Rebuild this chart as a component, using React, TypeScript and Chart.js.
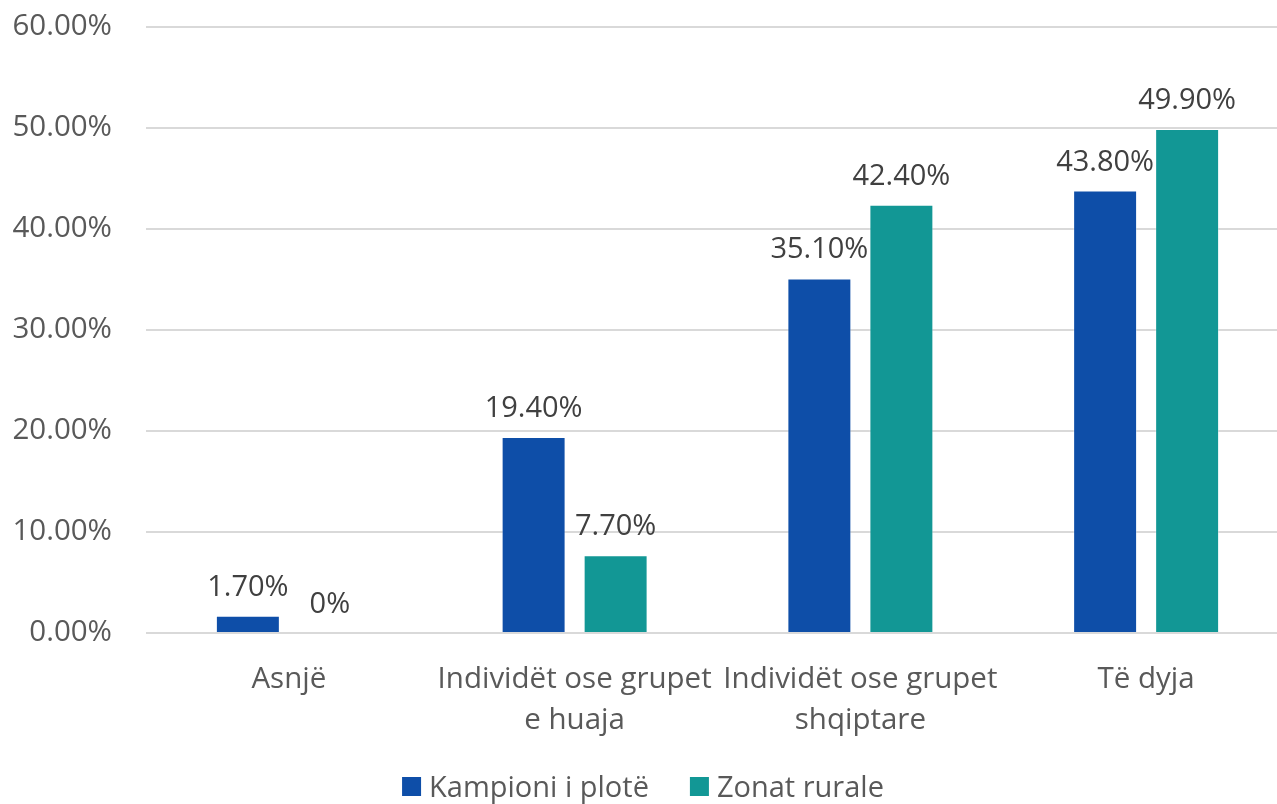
import React, { useEffect, useRef } from "react";
import { Chart, registerables } from "chart.js";

Chart.register(...registerables);

const categories: string[][] = [
  ["Asnjë"],
  ["Individët ose grupet", "e huaja"],
  ["Individët ose grupet", "shqiptare"],
  ["Të dyja"],
];
const seriesNames = ["Kampioni i plotë", "Zonat rurale"];
const fullSample = [1.7, 19.4, 35.1, 43.8];
const ruralAreas = [0, 7.7, 42.4, 49.9];
const yMin = 0;
const yMax = 60;
const yStep = 10;

const FONT = '"Open Sans", "Noto Sans", sans-serif';
const BLUE = "#0E4EA8";
const TEAL = "#129795";
const AXIS_TEXT = "#595959";
const LABEL_TEXT = "#404040";

const fmtLabel = (v: number) => (v === 0 ? "0%" : v.toFixed(2) + "%");

const dataLabelPlugin = {
  id: "dataLabels",
  afterDatasetsDraw(chart: any) {
    const ctx = chart.ctx;
    ctx.save();
    ctx.font = `29px ${FONT}`;
    ctx.fillStyle = LABEL_TEXT;
    ctx.textAlign = "center";
    ctx.textBaseline = "alphabetic";
    chart.data.datasets.forEach((ds: any, i: number) => {
      const meta = chart.getDatasetMeta(i);
      meta.data.forEach((el: any, j: number) => {
        ctx.fillText(fmtLabel(ds.data[j]), el.x, el.y - 20);
      });
    });
    ctx.restore();
  },
};

const customLegendPlugin = {
  id: "customLegend",
  afterDraw(chart: any) {
    const ctx = chart.ctx;
    ctx.save();
    ctx.font = `29px ${FONT}`;
    const box = 19;
    const gapText = 8;
    const gapItems = 41;
    const items = chart.data.datasets.map((ds: any) => ({
      text: ds.label,
      color: ds.backgroundColor,
      w: ctx.measureText(ds.label).width,
    }));
    const total =
      items.reduce((s: number, it: any) => s + box + gapText + it.w, 0) +
      gapItems * (items.length - 1);
    let x = 643 - total / 2;
    const baseline = 797;
    items.forEach((it: any) => {
      ctx.fillStyle = it.color;
      ctx.fillRect(x, baseline - box - 1, box, box);
      x += box + gapText;
      ctx.fillStyle = AXIS_TEXT;
      ctx.textAlign = "left";
      ctx.textBaseline = "alphabetic";
      ctx.fillText(it.text, x, baseline);
      x += it.w + gapItems;
    });
    ctx.restore();
  },
};

export default function App() {
  const ref = useRef<HTMLCanvasElement | null>(null);

  useEffect(() => {
    if (!ref.current) return;
    const chart = new Chart(ref.current, {
      type: "bar",
      data: {
        labels: categories,
        datasets: [
          {
            label: seriesNames[0],
            data: fullSample,
            backgroundColor: BLUE,
            borderColor: "rgba(255,255,255,0.35)",
            borderWidth: 1,
            categoryPercentage: 0.574,
            barPercentage: 0.78,
          },
          {
            label: seriesNames[1],
            data: ruralAreas,
            backgroundColor: TEAL,
            borderColor: "rgba(255,255,255,0.35)",
            borderWidth: 1,
            categoryPercentage: 0.574,
            barPercentage: 0.78,
          },
        ],
      },
      options: {
        responsive: false,
        animation: false,
        layout: { padding: { top: 27, left: 0, right: 0, bottom: 0 } },
        plugins: {
          legend: { display: false },
          tooltip: { enabled: false },
        },
        scales: {
          x: {
            grid: { display: false, drawTicks: false },
            border: { display: false },
            ticks: {
              color: AXIS_TEXT,
              font: { family: FONT, size: 29.5, lineHeight: 1.36 },
              padding: 27,
              maxRotation: 0,
              autoSkip: false,
            },
            afterFit: (scale: any) => {
              scale.height = 171;
              scale.paddingLeft = 0;
              scale.paddingRight = 0;
            },
          },
          y: {
            min: yMin,
            max: yMax,
            grid: { color: "#D9D9D9", lineWidth: 2, drawTicks: false },
            border: { display: false },
            ticks: {
              stepSize: yStep,
              color: AXIS_TEXT,
              font: { family: FONT, size: 29.5 },
              padding: 34,
              callback: (v: any) => Number(v).toFixed(2) + "%",
            },
            afterFit: (scale: any) => {
              scale.width = 146;
              scale.paddingTop = 0;
              scale.paddingBottom = 0;
            },
          },
        },
      },
      plugins: [dataLabelPlugin, customLegendPlugin],
    });
    return () => chart.destroy();
  }, []);

  return (
    <div
      style={{
        position: "absolute",
        left: 0,
        top: 0,
        width: 1277,
        height: 804,
        overflow: "hidden",
        background: "#fff",
      }}
    >
      <canvas ref={ref} width={1289} height={804} style={{ display: "block" }} />
    </div>
  );
}
